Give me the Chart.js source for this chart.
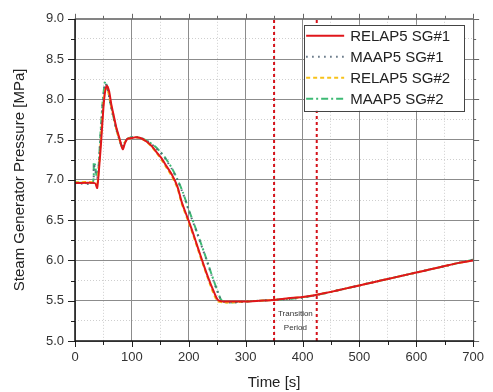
<!DOCTYPE html>
<html>
<head>
<meta charset="utf-8">
<script src="https://cdn.jsdelivr.net/npm/chart.js@4.4.1/dist/chart.umd.min.js"></script>
<style>
  html, body { margin: 0; padding: 0; background: #fff; }
  #wrap { width: 493px; height: 392px; }
</style>
</head>
<body>
<div id="wrap"><canvas id="chart" width="493" height="392"></canvas></div>
<script>
// values
const seriesLabels = ['RELAP5 SG#1', 'MAAP5 SG#1', 'RELAP5 SG#2', 'MAAP5 SG#2'];

const relapTime = [0, 35, 39, 43, 46, 50, 53, 56, 60, 64, 68, 73, 78, 84, 88, 92, 100, 106, 115, 125,
  135, 145, 152, 160, 170, 180, 187, 193, 200, 208, 216, 225, 234, 243, 251, 260, 280, 300, 325, 350,
  375, 400, 425, 450, 475, 500, 525, 550, 575, 600, 625, 650, 675, 700];
const relapSG1 = [6.96, 6.96, 6.90, 7.2, 7.48, 7.9, 8.1, 8.17, 8.1, 7.93, 7.8, 7.64, 7.52, 7.38, 7.46, 7.51, 7.52, 7.53, 7.52, 7.48,
  7.42, 7.33, 7.27, 7.18, 7.07, 6.92, 6.74, 6.62, 6.49, 6.33, 6.16, 5.97, 5.79, 5.63, 5.51, 5.49, 5.49, 5.49, 5.50, 5.51,
  5.53, 5.545, 5.575, 5.61, 5.65, 5.69, 5.73, 5.77, 5.81, 5.85, 5.89, 5.93, 5.97, 6.00];
const relapSG2 = [6.97, 6.97, 6.92, 7.25, 7.55, 7.95, 8.12, 8.13, 8.05, 7.9, 7.78, 7.62, 7.5, 7.40, 7.47, 7.51, 7.52, 7.53, 7.52, 7.48,
  7.41, 7.32, 7.25, 7.16, 7.05, 6.9, 6.72, 6.6, 6.47, 6.31, 6.14, 5.95, 5.77, 5.6, 5.49, 5.48, 5.48, 5.49, 5.50, 5.51,
  5.53, 5.545, 5.575, 5.61, 5.65, 5.69, 5.73, 5.77, 5.81, 5.85, 5.89, 5.93, 5.97, 6.00];

const maapTime = [0, 31, 33, 35, 38, 41, 45, 49, 53, 57, 62, 67, 72, 78, 83, 87, 92, 100, 110, 120,
  130, 140, 150, 160, 170, 180, 190, 200, 210, 220, 230, 240, 250, 257, 265, 280, 300, 325, 350, 375,
  400, 425, 450, 475, 500, 525, 550, 575, 600, 625, 650, 675, 700];
const maapSG1 = [6.96, 6.96, 7.18, 7.15, 7.03, 7.1, 7.55, 7.98, 8.2, 8.14, 7.95, 7.79, 7.64, 7.5, 7.41, 7.46, 7.51, 7.53, 7.53, 7.51,
  7.47, 7.41, 7.34, 7.25, 7.14, 7.0, 6.83, 6.62, 6.43, 6.23, 6.03, 5.82, 5.62, 5.51, 5.48, 5.48, 5.49, 5.50, 5.51, 5.52,
  5.54, 5.57, 5.61, 5.65, 5.69, 5.73, 5.77, 5.81, 5.85, 5.89, 5.93, 5.97, 6.01];
const maapSG2 = [6.97, 6.97, 7.22, 7.2, 7.05, 7.12, 7.6, 8.0, 8.22, 8.15, 7.96, 7.8, 7.65, 7.5, 7.40, 7.46, 7.51, 7.53, 7.53, 7.51,
  7.47, 7.42, 7.35, 7.26, 7.15, 7.01, 6.84, 6.63, 6.44, 6.24, 6.04, 5.83, 5.63, 5.51, 5.48, 5.48, 5.49, 5.50, 5.51, 5.52,
  5.54, 5.57, 5.61, 5.65, 5.69, 5.73, 5.77, 5.81, 5.85, 5.89, 5.93, 5.97, 6.01];

const transitionStart = 350;
const transitionEnd = 425;
const transitionText = ['Transition', 'Period'];

const xMin = 0, xMax = 700, xMajor = 100, xMinor = 50;
const yMin = 5.0, yMax = 9.0, yMajor = 0.5, yMinor = 0.25;

const FONT = '"Liberation Sans", Arial, sans-serif';

function pts(xs, ys) {
  return xs.map((x, i) => ({ x: x, y: ys[i] }));
}
function isMajor(v, step) {
  const r = Math.abs(v / step - Math.round(v / step));
  return r < 1e-6;
}

const styles = [
  { color: '#e0161b', dash: [], width: 2 },
  { color: '#56697a', dash: [1.5, 4.5], width: 2 },
  { color: '#f7c21a', dash: [4, 3], width: 2 },
  { color: '#3dba74', dash: [7, 3, 2, 3], width: 2 }
];
const seriesData = [pts(relapTime, relapSG1), pts(maapTime, maapSG1), pts(relapTime, relapSG2), pts(maapTime, maapSG2)];

const datasets = seriesData.map((d, i) => ({
  label: seriesLabels[i],
  data: d,
  borderColor: styles[i].color,
  borderDash: styles[i].dash,
  borderWidth: styles[i].width,
  pointRadius: 0,
  tension: 0.2,
  fill: false
}));

// transition period markers
[transitionStart, transitionEnd].forEach(t => {
  datasets.push({
    label: '',
    data: [{ x: t, y: yMin }, { x: t, y: yMax }],
    borderColor: '#d4121a',
    borderDash: [3, 3],
    borderWidth: 2,
    pointRadius: 0,
    fill: false
  });
});

// frame, outer ticks, transition label and legend
const decorPlugin = {
  id: 'decor',
  afterDraw(chart) {
    const { ctx, chartArea: a, scales } = chart;
    const xs = scales.x, ys = scales.y;
    ctx.save();

    // tick marks on all four sides
    ctx.lineWidth = 1;
    for (let v = xMin; v <= xMax + 1e-6; v += xMinor) {
      const px = Math.round(xs.getPixelForValue(v)) + 0.5;
      const len = isMajor(v, xMajor) ? 6 : 4;
      ctx.strokeStyle = '#222';
      ctx.beginPath(); ctx.moveTo(px, a.bottom); ctx.lineTo(px, a.bottom + len); ctx.stroke();
      ctx.strokeStyle = '#666';
      ctx.beginPath(); ctx.moveTo(px, a.top); ctx.lineTo(px, a.top - len + 1); ctx.stroke();
    }
    for (let v = yMin; v <= yMax + 1e-6; v += yMinor) {
      const py = Math.round(ys.getPixelForValue(v)) + 0.5;
      const len = isMajor(v, yMajor) ? 7 : 4;
      ctx.strokeStyle = '#222';
      ctx.beginPath(); ctx.moveTo(a.left, py); ctx.lineTo(a.left - len, py); ctx.stroke();
      ctx.strokeStyle = '#666';
      ctx.beginPath(); ctx.moveTo(a.right, py); ctx.lineTo(a.right + len - 1, py); ctx.stroke();
    }

    // frame
    ctx.strokeStyle = '#666';
    ctx.lineWidth = 1;
    ctx.beginPath();
    ctx.moveTo(a.left, a.top + 0.5); ctx.lineTo(a.right + 0.5, a.top + 0.5); ctx.lineTo(a.right + 0.5, a.bottom);
    ctx.stroke();
    ctx.strokeStyle = '#111';
    ctx.lineWidth = 1.5;
    ctx.beginPath();
    ctx.moveTo(a.left, a.top); ctx.lineTo(a.left, a.bottom); ctx.lineTo(a.right + 1, a.bottom);
    ctx.stroke();

    // transition period text
    const midX = xs.getPixelForValue((transitionStart + transitionEnd) / 2);
    ctx.fillStyle = '#333';
    ctx.font = '8px ' + FONT;
    ctx.textAlign = 'center';
    ctx.textBaseline = 'middle';
    ctx.fillText(transitionText[0], midX, ys.getPixelForValue(5.34));
    ctx.fillText(transitionText[1], midX, ys.getPixelForValue(5.17));

    // legend box
    const bw = 160, bh = 86;
    const bx = a.right - 9 - bw, by = a.top + 6;
    ctx.fillStyle = '#fff';
    ctx.fillRect(bx, by, bw, bh);
    ctx.strokeStyle = '#444';
    ctx.lineWidth = 1;
    ctx.strokeRect(Math.round(bx) + 0.5, Math.round(by) + 0.5, bw, bh);
    ctx.font = '15px ' + FONT;
    ctx.textAlign = 'left';
    ctx.textBaseline = 'middle';
    for (let i = 0; i < seriesLabels.length; i++) {
      const cy = by + 11 + i * 21;
      ctx.strokeStyle = styles[i].color;
      ctx.lineWidth = styles[i].width;
      ctx.setLineDash(styles[i].dash);
      ctx.beginPath(); ctx.moveTo(bx + 2, cy); ctx.lineTo(bx + 40, cy); ctx.stroke();
      ctx.setLineDash([]);
      ctx.fillStyle = '#222';
      ctx.fillText(seriesLabels[i], bx + 46, cy + 1);
    }
    ctx.restore();
  }
};

new Chart(document.getElementById('chart').getContext('2d'), {
  type: 'line',
  data: { datasets },
  options: {
    responsive: false,
    animation: false,
    layout: { padding: { top: 16, right: 15, left: 0, bottom: 0 } },
    plugins: {
      legend: { display: false },
      tooltip: { enabled: false }
    },
    scales: {
      x: {
        type: 'linear',
        min: xMin, max: xMax,
        afterFit(scale) { scale.height = 51; },
        ticks: {
          stepSize: xMinor,
          autoSkip: false,
          maxRotation: 0,
          padding: 9,
          color: '#333',
          font: { family: FONT, size: 13 },
          callback: v => isMajor(v, xMajor) ? String(v) : ''
        },
        grid: {
          drawTicks: false,
          color: c => isMajor(c.tick.value, xMajor) ? '#8c8c8c' : '#cfcfcf',
          lineWidth: 1
        },
        border: {
          display: false,
          dash: c => isMajor(c.tick.value, xMajor) ? [] : [1, 2]
        },
        title: {
          display: true,
          text: 'Time [s]',
          color: '#222',
          font: { family: FONT, size: 15 },
          padding: { top: 0, bottom: 0 }
        }
      },
      y: {
        type: 'linear',
        min: yMin, max: yMax,
        afterFit(scale) { scale.width = 75; },
        ticks: {
          stepSize: yMinor,
          autoSkip: false,
          padding: 11,
          color: '#333',
          font: { family: FONT, size: 13 },
          callback: v => isMajor(v, yMajor) ? v.toFixed(1) : ''
        },
        grid: {
          drawTicks: false,
          color: c => isMajor(c.tick.value, yMajor) ? '#8c8c8c' : '#cfcfcf',
          lineWidth: 1
        },
        border: {
          display: false,
          dash: c => isMajor(c.tick.value, yMajor) ? [] : [1, 2]
        },
        title: {
          display: true,
          text: 'Steam Generator Pressure [MPa]',
          color: '#222',
          font: { family: FONT, size: 15 },
          padding: { top: 11, bottom: 0 }
        }
      }
    }
  },
  plugins: [decorPlugin]
});
</script>
</body>
</html>
